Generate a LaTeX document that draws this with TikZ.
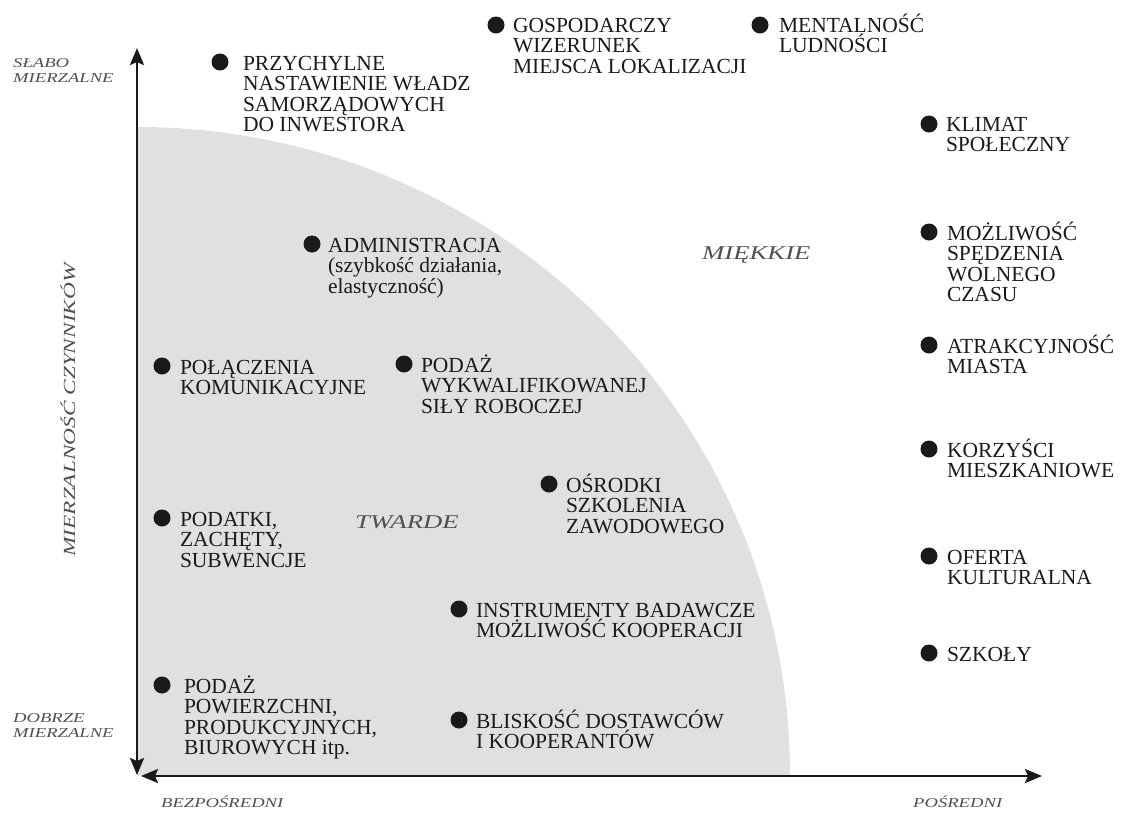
\documentclass[tikz,border=0pt]{standalone}
\usepackage{fontspec}
\setmainfont{Liberation Serif}
\newfontfamily\widefont{Liberation Serif}[FakeStretch=1.37]
\usetikzlibrary{arrows.meta}
\definecolor{softgray}{RGB}{224,224,224}
\definecolor{ink}{RGB}{26,26,26}
\definecolor{labelgray}{RGB}{80,80,80}
\newcommand{\itemfont}{\fontsize{21.5}{20.5}\selectfont\lineskiplimit=-100pt\lineskip=0pt}
\newcommand{\smallaxisfont}{\widefont\itshape\fontsize{13.6}{15}\selectfont\lineskiplimit=-100pt\lineskip=0pt}
\newcommand{\bigaxisfont}{\widefont\itshape\fontsize{19.5}{20}\selectfont}
\newcommand{\vertaxisfont}{\widefont\itshape\fontsize{17}{18}\selectfont}
\newcommand{\fs}{\rule{0pt}{20pt}}
\tikzset{
  factor/.style={anchor=north west, inner sep=0pt, outer sep=0pt, align=left, font=\itemfont, text=ink},
  bul/.style={circle, fill=ink, minimum size=17pt, inner sep=0pt},
  axislabel/.style={anchor=base west, inner sep=0pt, align=left, font=\smallaxisfont, text=labelgray},
  zonelabel/.style={anchor=base west, inner sep=0pt, font=\bigaxisfont, text=labelgray},
  axisline/.style={line width=2.6pt, draw=ink, -{Stealth[length=17pt,width=14pt,inset=3pt]}}
}
\begin{document}
\begin{tikzpicture}[x=1pt,y=-1pt]
\useasboundingbox (0,0) rectangle (1122,812);
% gray hard-factor zone
\begin{scope}
  \clip (137,100) rectangle (1000,775);
  \fill[softgray] (137,775) ellipse [x radius=653, y radius=648];
\end{scope}
% axes
\coordinate (yaxtop) at (137,48);
\coordinate (yaxbot) at (137,775);
\coordinate (xaxleft) at (141,776);
\coordinate (xaxright) at (1042,776);
\coordinate (ymid) at (137,420);
\coordinate (xmid) at (600,776);
\draw[axisline] (ymid) -- (yaxtop);
\draw[axisline] (ymid) -- (yaxbot);
\draw[axisline] (xmid) -- (xaxleft);
\draw[axisline] (xmid) -- (xaxright);
% axis labels
\node[axislabel] (slabo) at (13,82) {SŁABO\\MIERZALNE};
\node[axislabel] (dobrze) at (13,737) {DOBRZE\\MIERZALNE};
\node[axislabel] (bezp) at (161,807) {BEZPOŚREDNI};
\node[axislabel] (posr) at (913,807) {POŚREDNI};
\node[anchor=base, inner sep=0pt, rotate=90, font=\vertaxisfont, text=labelgray] (mierz) at (75,410) {MIERZALNOŚĆ CZYNNIKÓW};
\node[zonelabel] (miekkie) at (702,259) {MIĘKKIE};
\node[zonelabel] (twarde) at (355,528) {TWARDE};
% factors
\node[bul] (b1) at (220,62) {};
\node[factor] (t1) at (243,50) {\fs PRZYCHYLNE\\NASTAWIENIE WŁADZ\\SAMORZĄDOWYCH\\DO INWESTORA};
\node[bul] (b2) at (496,25) {};
\node[factor] (t2) at (513,12) {\fs GOSPODARCZY\\WIZERUNEK\\MIEJSCA LOKALIZACJI};
\node[bul] (b3) at (760,25) {};
\node[factor] (t3) at (779,12) {\fs MENTALNOŚĆ\\LUDNOŚCI};
\node[bul] (b4) at (929,124) {};
\node[factor] (t4) at (946,111) {\fs KLIMAT\\SPOŁECZNY};
\node[bul] (b5) at (929,232) {};
\node[factor] (t5) at (947,220) {\fs MOŻLIWOŚĆ\\SPĘDZENIA\\WOLNEGO\\CZASU};
\node[bul] (b6) at (929,345) {};
\node[factor] (t6) at (947,333) {\fs ATRAKCYJNOŚĆ\\MIASTA};
\node[bul] (b7) at (929,449) {};
\node[factor] (t7) at (947,437) {\fs KORZYŚCI\\MIESZKANIOWE};
\node[bul] (b8) at (929,556) {};
\node[factor] (t8) at (947,544) {\fs OFERTA\\KULTURALNA};
\node[bul] (b9) at (929,653) {};
\node[factor] (t9) at (947,641) {\fs SZKOŁY};
\node[bul] (b10) at (312,244) {};
\node[factor] (t10) at (328,232) {\fs ADMINISTRACJA\\(szybkość działania,\\elastyczność)};
\node[bul] (b11) at (162,366) {};
\node[factor] (t11) at (180,354) {\fs POŁĄCZENIA\\KOMUNIKACYJNE};
\node[bul] (b12) at (404,364) {};
\node[factor] (t12) at (421,352) {\fs PODAŻ\\WYKWALIFIKOWANEJ\\SIŁY ROBOCZEJ};
\node[bul] (b13) at (549,484) {};
\node[factor] (t13) at (566,472) {\fs OŚRODKI\\SZKOLENIA\\ZAWODOWEGO};
\node[bul] (b14) at (162,518) {};
\node[factor] (t14) at (180,506) {\fs PODATKI,\\ZACHĘTY,\\SUBWENCJE};
\node[bul] (b15) at (459,609) {};
\node[factor] (t15) at (476,597) {\fs INSTRUMENTY BADAWCZE\\MOŻLIWOŚĆ KOOPERACJI};
\node[bul] (b16) at (162,685) {};
\node[factor] (t16) at (184,673) {\fs PODAŻ\\POWIERZCHNI,\\PRODUKCYJNYCH,\\BIUROWYCH itp.};
\node[bul] (b17) at (459,720) {};
\node[factor] (t17) at (476,708) {\fs BLISKOŚĆ DOSTAWCÓW\\I KOOPERANTÓW};
\end{tikzpicture}
\end{document}
